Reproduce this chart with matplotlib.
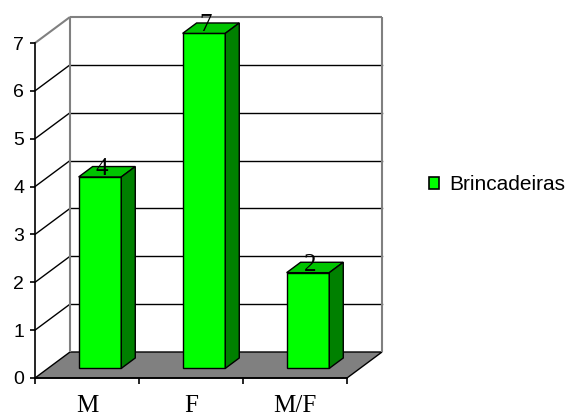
import matplotlib
matplotlib.use("Agg")
import matplotlib.pyplot as plt
from matplotlib.patches import Polygon, Patch
from matplotlib.ticker import FixedLocator

# ---- data ----
categories = ["M", "F", "M/F"]
values = [4, 7, 2]
series_name = "Brincadeiras"
y_ticks = [0, 1, 2, 3, 4, 5, 6, 7]

# ---- style ----
FRONT = "#00FF00"
TOP = "#00C400"
SIDE = "#008000"
FLOOR = "#808080"
WALL_EDGE = "#808080"

W, H = 572, 418
fig = plt.figure(figsize=(W / 100, H / 100), dpi=100)
ax = fig.add_axes([35 / W, 40 / H, 312 / W, 335 / H])
ax.set_xlim(-0.5, len(categories) - 0.5)
ax.set_ylim(0, max(y_ticks))
ax.patch.set_visible(False)

# depth offsets (in data units) for the oblique projection
px_per_cat = 312 / len(categories)
px_per_val = 335 / max(y_ticks)
DX = 35 / px_per_cat
DY = 26 / px_per_val


def P(x, v, d):
    return (x + d * DX, v + d * DY)


x_lo, x_hi = -0.5, len(categories) - 0.5
vmax = max(y_ticks)

# floor
ax.add_patch(Polygon([P(x_lo, 0, 0), P(x_hi, 0, 0), P(x_hi, 0, 1), P(x_lo, 0, 1)],
                     closed=True, facecolor=FLOOR, edgecolor="black", lw=1,
                     clip_on=False, zorder=1))

# gridlines on back wall and side wall
for v in y_ticks[1:-1]:
    xs, ys = zip(P(x_lo, v, 1), P(x_hi, v, 1))
    ax.plot(xs, ys, color="black", lw=1, clip_on=False, zorder=1)
    xs, ys = zip(P(x_lo, v, 0), P(x_lo, v, 1))
    ax.plot(xs, ys, color="black", lw=1, clip_on=False, zorder=1)

# wall edges (grey)
for a, b in [(P(x_lo, vmax, 0), P(x_lo, vmax, 1)),
             (P(x_lo, 0, 1), P(x_lo, vmax, 1)),
             (P(x_lo, vmax, 1), P(x_hi, vmax, 1)),
             (P(x_hi, 0, 1), P(x_hi, vmax, 1))]:
    ax.plot([a[0], b[0]], [a[1], b[1]], color=WALL_EDGE, lw=1.5,
            clip_on=False, zorder=1, solid_capstyle="butt")

# bars
bw = 0.41
d0, d1 = 0.37, 0.77
for i, v in enumerate(values):
    x0, x1 = i - bw / 2, i + bw / 2
    faces = [
        ([P(x0, 0, d0), P(x1, 0, d0), P(x1, v, d0), P(x0, v, d0)], FRONT),
        ([P(x0, v, d0), P(x1, v, d0), P(x1, v, d1), P(x0, v, d1)], TOP),
        ([P(x1, 0, d0), P(x1, 0, d1), P(x1, v, d1), P(x1, v, d0)], SIDE),
    ]
    for pts, c in faces:
        ax.add_patch(Polygon(pts, closed=True, facecolor=c, edgecolor="black",
                             lw=1, clip_on=False, zorder=3, joinstyle="miter"))
    lx, ly = P(i, v, d0)
    ax.annotate(str(v), (lx, ly), xytext=(2, 2), textcoords="offset pixels",
                ha="center", va="baseline", fontsize=18,
                family="Liberation Serif", color="black", zorder=5,
                annotation_clip=False)

# axes / ticks
for s in ["top", "right"]:
    ax.spines[s].set_visible(False)
for s in ["left", "bottom"]:
    ax.spines[s].set_color("black")
    ax.spines[s].set_linewidth(1.2)
    ax.spines[s].set_zorder(4)

ax.set_yticks(y_ticks)
ax.set_yticklabels([str(t) for t in y_ticks], family="Liberation Sans", fontsize=14)
ax.tick_params(axis="y", direction="out", length=3.8, width=1.2, pad=4, colors="black")

ax.set_xticks(range(len(categories)))
ax.set_xticklabels(categories, family="Liberation Serif", fontsize=18)
ax.xaxis.set_minor_locator(FixedLocator([k - 0.5 for k in range(len(categories) + 1)]))
ax.tick_params(axis="x", which="major", length=0, pad=12)
ax.tick_params(axis="x", which="minor", direction="out", length=4.5, width=1.2)

# legend
handle = Patch(facecolor=FRONT, edgecolor="black", lw=1.2)
fig.legend([handle], [series_name], loc="center left",
           bbox_to_anchor=(429 / W, 1 - 185 / H), frameon=False,
           prop={"family": "Liberation Sans", "size": 15},
           handlelength=0.48, handleheight=0.48, handletextpad=0.5,
           borderpad=0, borderaxespad=0)

fig.savefig("out.png", dpi=100)
